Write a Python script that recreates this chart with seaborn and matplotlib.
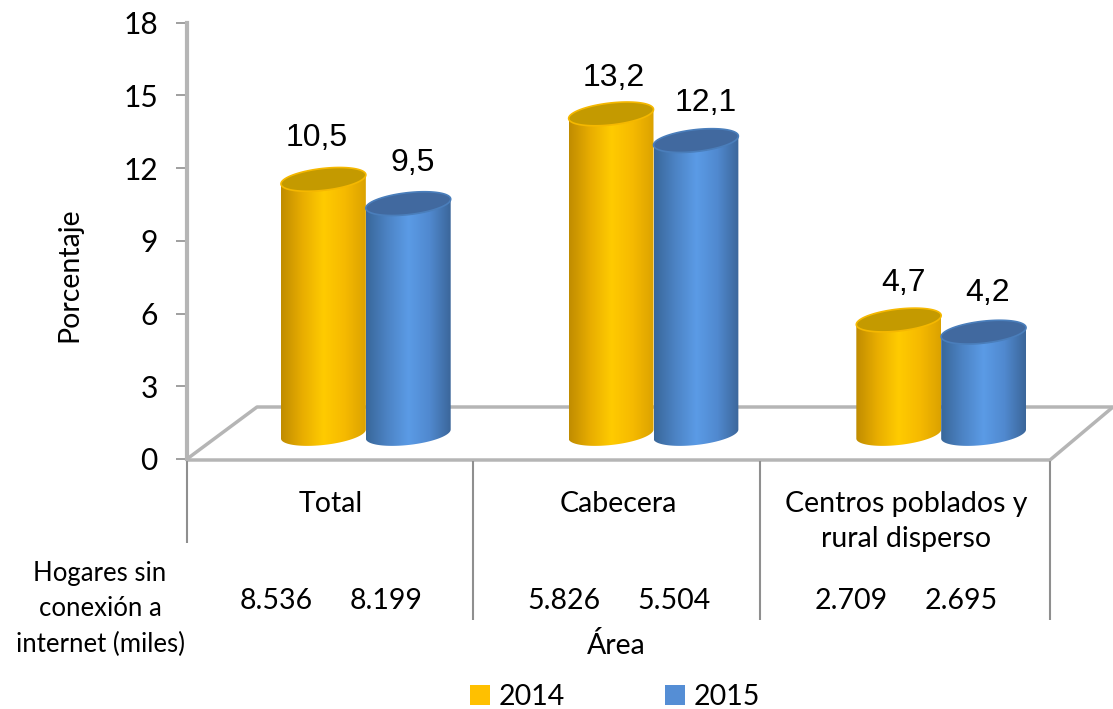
import numpy as np
import pandas as pd
import matplotlib
matplotlib.use("Agg")
import matplotlib.pyplot as plt
import seaborn as sns
from matplotlib.colors import LinearSegmentedColormap
from matplotlib.lines import Line2D
from matplotlib.patches import Patch, Polygon

# --- Data ---
AREAS = ['Total', 'Cabecera', 'Centros poblados y\nrural disperso']
YEARS = ['2014', '2015']
VALUES_2014 = [10.5, 13.2, 4.7]
VALUES_2015 = [9.5, 12.1, 4.2]
HOGARES_2014 = ['8.536', '5.826', '2.709']
HOGARES_2015 = ['8.199', '5.504', '2.695']
Y_TICKS = [0, 3, 6, 9, 12, 15, 18]

# --- Configuration ---
W, H = 1113, 709
GREY = '#b5b5b5'
LINE_GREY = '#8f8f8f'
ARIAL = 'Liberation Sans'
BODY = 'Lato'
BODY_SIZE = 20.5
COLORS = {'2014': '#ffc000', '2015': '#558ed5'}
GRADIENTS = {
    '2014': ['#c08c00', '#e8ad00', '#ffcb00', '#f6ba00', '#dba200'],
    '2015': ['#39679a', '#4c83c4', '#5b9be6', '#5089cf', '#3b669a'],
}
TOPS = {'2014': ('#c49a00', '#f5b800'), '2015': ('#41699f', '#4a7ebb')}
# label shift in pixels from the top of the cylinder
LABEL_DX = {'2014': [-7, 3, 5], '2015': [4, 10, 4]}
LABEL_DY = {'2014': [41, 36, 37], '2015': [41, 38, 39]}


def fx(px):
    return px / W


def fy(py):
    return 1 - py / H


def fig_line(ax, xs, ys, color=GREY, lw=2.5):
    ax.add_line(Line2D([fx(v) for v in xs], [fy(v) for v in ys], color=color, lw=lw,
                       transform=ax.figure.transFigure, clip_on=False,
                       solid_capstyle='butt'))


def draw_cylinder(ax, patch, year, order):
    """Paints a shaded cylinder on top of the bar that seaborn placed."""
    x0 = patch.get_x()
    a = patch.get_width() / 2
    cx = x0 + a
    top = patch.get_height()
    b, shear = 11 / 24.25, 4.5 / 24.25

    t = np.linspace(0, 2 * np.pi, 120)
    ex = cx + a * np.cos(t)
    ey = b * np.sin(t) + shear * np.cos(t)

    low = t[(t >= np.pi)]
    up = t[(t <= np.pi)]
    body = np.vstack([
        np.c_[cx + a * np.cos(low), b * np.sin(low) + shear * np.cos(low)],
        np.c_[cx + a * np.cos(up), top + b * np.sin(up) + shear * np.cos(up)],
    ])
    outline = Polygon(body, closed=True, fc='none', ec='none', transform=ax.transData)
    ax.add_patch(outline)
    outline.set_clip_on(False)

    cmap = LinearSegmentedColormap.from_list(year, GRADIENTS[year])
    im = ax.imshow(np.linspace(0, 1, 256).reshape(1, -1), cmap=cmap, aspect='auto',
                   extent=(x0, x0 + 2 * a, -1, top + 1), zorder=3 + order)
    im.set_clip_box(ax.figure.bbox)
    im.set_clip_path(outline)

    fill, rim = TOPS[year]
    ax.add_patch(Polygon(np.c_[ex, top + ey], closed=True, fc=fill, ec=rim, lw=1.2,
                         zorder=3 + order, clip_on=False))


def main():
    sns.set_theme(style='white')
    plt.rcParams['font.family'] = [BODY, 'DejaVu Sans']

    df = pd.DataFrame({
        'Area': AREAS * 2,
        'Anio': [YEARS[0]] * 3 + [YEARS[1]] * 3,
        'Porcentaje': VALUES_2014 + VALUES_2015,
    })

    fig = plt.figure(figsize=(W / 100, H / 100), dpi=100, facecolor='white')

    # frame axes: 0 at y=459, 18 at y=22.5, categories between x=187 and x=1050
    rect = [fx(187), fy(459), (1050 - 187) / W, (459 - 22.5) / H]
    ax = fig.add_axes(rect, zorder=1)
    ax.patch.set_visible(False)
    ax.set_xlim(-0.5, 2.5)
    ax.set_ylim(0, 18)
    for name in ['top', 'right', 'bottom']:
        ax.spines[name].set_visible(False)
    ax.spines['left'].set_color(GREY)
    ax.spines['left'].set_linewidth(3)

    ax.set_yticks(Y_TICKS)
    ax.set_yticklabels([str(v) for v in Y_TICKS], fontsize=21.5, color='black',
                       va='center_baseline')
    ax.tick_params(axis='y', left=True, length=8, width=1.2, color=LINE_GREY, pad=13)
    ax.set_xticks(range(3))
    ax.set_xticklabels(AREAS, fontsize=BODY_SIZE, color='black', linespacing=1.45)
    ax.tick_params(axis='x', bottom=False, pad=17)

    # floor and the grid of the table under the chart
    fig_line(ax, [187, 257, 1113], [459, 407, 407])
    fig_line(ax, [187, 1050, 1113], [460, 460, 407])
    fig_line(ax, [187, 187], [459, 543], color=LINE_GREY, lw=1.5)
    for x in [473, 760, 1050]:
        fig_line(ax, [x, x], [461, 620], color=LINE_GREY, lw=1.5)

    # bars live in a second axes moved back along the floor
    rect3d = [fx(187 + 35), fy(459 - 25), rect[2], rect[3]]
    ax3d = fig.add_axes(rect3d, zorder=2)
    sns.barplot(data=df, x='Area', y='Porcentaje', hue='Anio', hue_order=YEARS,
                palette=COLORS, width=0.59, legend=False, ax=ax3d)
    ax3d.set_xlim(-0.5, 2.5)
    ax3d.set_ylim(0, 18)
    ax3d.axis('off')

    for s, (year, container) in enumerate(zip(YEARS, ax3d.containers)):
        for i, patch in enumerate(container.patches):
            patch.set_facecolor('none')
            patch.set_edgecolor('none')
            draw_cylinder(ax3d, patch, year, s)
            lx = patch.get_x() + patch.get_width() / 2
            ax3d.annotate(f'{patch.get_height():.1f}'.replace('.', ','),
                          xy=(lx, patch.get_height()), xycoords='data',
                          xytext=(LABEL_DX[year][i] * 0.72, LABEL_DY[year][i] * 0.72),
                          textcoords='offset points', ha='center', va='center',
                          fontsize=23, fontfamily=ARIAL, color='black',
                          annotation_clip=False, zorder=10)
    ax3d.set_xlim(-0.5, 2.5)
    ax3d.set_ylim(0, 18)

    # table of households
    for i in range(3):
        fig.text(fx(187 + 287.67 * (i + 0.5) - 55), fy(601), HOGARES_2014[i], fontsize=BODY_SIZE,
                 ha='center', va='center', color='black')
        fig.text(fx(187 + 287.67 * (i + 0.5) + 55), fy(601), HOGARES_2015[i], fontsize=BODY_SIZE,
                 ha='center', va='center', color='black')
    fig.text(fx(100), fy(574), 'Hogares sin', fontsize=18.5, ha='center', va='center', color='black')
    fig.text(fx(100), fy(609), 'conexión a', fontsize=18.5, ha='center', va='center', color='black')
    fig.text(fx(100), fy(644), 'internet (miles)', fontsize=18.5, ha='center', va='center', color='black')

    fig.text(fx(616), fy(645), 'Área', fontsize=BODY_SIZE, ha='center', va='center', color='black')
    fig.text(fx(69), fy(275), 'Porcentaje', fontsize=BODY_SIZE, rotation=90,
             ha='center', va='center', color='black')

    handles = [Patch(facecolor=COLORS[y], edgecolor='none', label=y) for y in YEARS]
    fig.legend(handles=handles, loc='center', bbox_to_anchor=(fx(615), fy(697)), ncol=2,
               frameon=False, handlelength=0.72, handleheight=0.72, handletextpad=0.3,
               columnspacing=3.5, borderpad=0, labelcolor='black',
               prop={'family': BODY, 'size': 20.5})

    fig.savefig('out.png', dpi=100)
    plt.close(fig)


if __name__ == "__main__":
    main()
